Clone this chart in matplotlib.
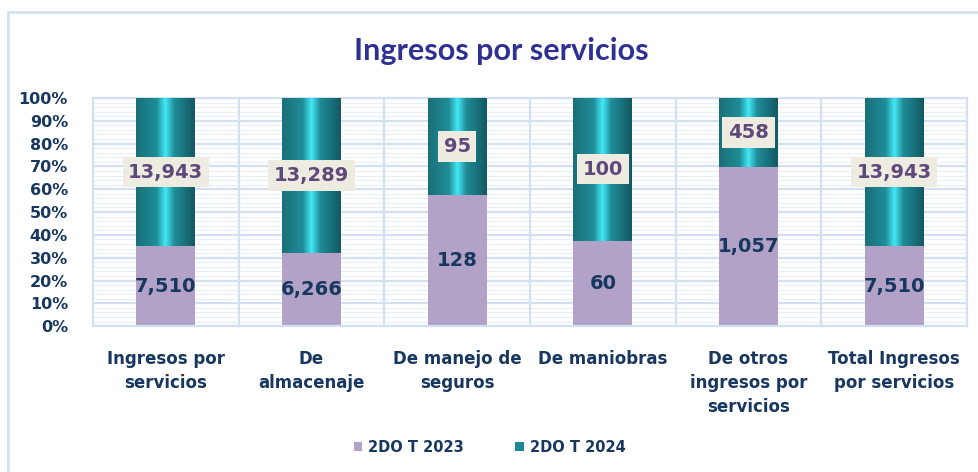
import numpy as np
import matplotlib.pyplot as plt
from matplotlib.colors import LinearSegmentedColormap
from matplotlib.lines import Line2D
from matplotlib.patches import Patch

plt.rcParams['font.family'] = ['DejaVu Sans']

categories = ['Ingresos por\nservicios', 'De\nalmacenaje', 'De manejo de\nseguros',
              'De maniobras', 'De otros\ningresos por\nservicios', 'Total Ingresos\npor servicios']
t2023 = [7510, 6266, 128, 60, 1057, 7510]
t2024 = [13943, 13289, 95, 100, 458, 13943]
series_names = ['2DO T 2023', '2DO T 2024']

navy = '#17375e'
grid_col = '#d3e0f1'
lav = '#b2a2c7'

v23 = np.array(t2023, dtype=float)
v24 = np.array(t2024, dtype=float)
tot = v23 + v24
p23 = v23 / tot * 100
p24 = v24 / tot * 100
x = np.arange(len(categories))

fig = plt.figure(figsize=(9.79, 4.72), dpi=100)
ax = fig.add_axes([0.095, 0.309, 0.8927, 0.4835])

# grid: minor every 2%, major every 10%, verticals between categories
for yv in np.arange(0, 101, 2):
    ax.axhline(yv, color='#e8eff8' if yv % 10 else grid_col, lw=0.8 if yv % 10 else 1.6, zorder=0)
for xv in np.arange(0.5, len(categories) - 0.5, 1):
    ax.axvline(xv, color=grid_col, lw=1.6, zorder=0)

bars23 = ax.bar(x, p23, width=0.405, color=lav, zorder=2)
bars24 = ax.bar(x, p24, width=0.405, bottom=p23, color='#1d7c86', zorder=2)

# metallic teal look
teal = LinearSegmentedColormap.from_list(
    'teal', [(0, '#1a6f79'), (0.35, '#1f8d98'), (0.5, '#42e8f4'), (0.65, '#1f8d98'), (1, '#135862')])
grad = np.linspace(0, 1, 200).reshape(1, -1)
for b in bars24:
    x0, y0 = b.get_x(), b.get_y()
    im = ax.imshow(grad, cmap=teal, aspect='auto', zorder=3,
                   extent=(x0, x0 + b.get_width(), y0, y0 + b.get_height()))
    im.set_clip_path(b)

for i in range(len(categories)):
    ax.text(x[i], p23[i] / 2, f'{t2023[i]:,}', ha='center', va='center',
            fontsize=14, fontweight='bold', color=navy, zorder=5)
    ax.text(x[i], p23[i] + p24[i] / 2, f'{t2024[i]:,}', ha='center', va='center',
            fontsize=14, fontweight='bold', color='#5f497a', zorder=5,
            bbox=dict(facecolor='#eeece1', edgecolor='none', pad=4))

ax.set_xlim(-0.5, len(categories) - 0.5)
ax.set_ylim(0, 100)
ax.set_yticks(np.arange(0, 101, 10))
ax.set_yticklabels([f'{v}%' for v in range(0, 101, 10)])
ax.set_xticks(x)
ax.set_xticklabels(categories, linespacing=1.45, va='top')
ax.tick_params(length=0)
ax.tick_params(axis='y', pad=18, labelsize=11.5, labelcolor=navy)
ax.tick_params(axis='x', pad=17, labelsize=12, labelcolor=navy)
for lab in ax.get_xticklabels() + ax.get_yticklabels():
    lab.set_fontweight('bold')
for s in ax.spines.values():
    s.set_color(grid_col)
    s.set_linewidth(1.6)

fig.text(0.512, 0.893, 'Ingresos por servicios', ha='center', va='center',
         fontsize=22, fontweight='bold', color='#2e3192', family='Lato')

handles = [Patch(facecolor=lav, label=series_names[0]),
           Patch(facecolor='#1d8792', label=series_names[1])]
leg = fig.legend(handles=handles, loc='center', bbox_to_anchor=(0.5, 0.052), ncol=2,
                 frameon=False, handlelength=0.6, handleheight=0.6, handletextpad=0.4,
                 columnspacing=3.5, prop={'weight': 'bold', 'size': 10.5})
for t in leg.get_texts():
    t.set_color(navy)

# chart frame
fig.add_artist(Line2D([8.5 / 979, 8.5 / 979], [0, 1 - 12 / 472], color=grid_col, lw=2))
fig.add_artist(Line2D([8 / 979, 1], [1 - 12 / 472, 1 - 12 / 472], color=grid_col, lw=2))

fig.savefig('out.png', dpi=100)
